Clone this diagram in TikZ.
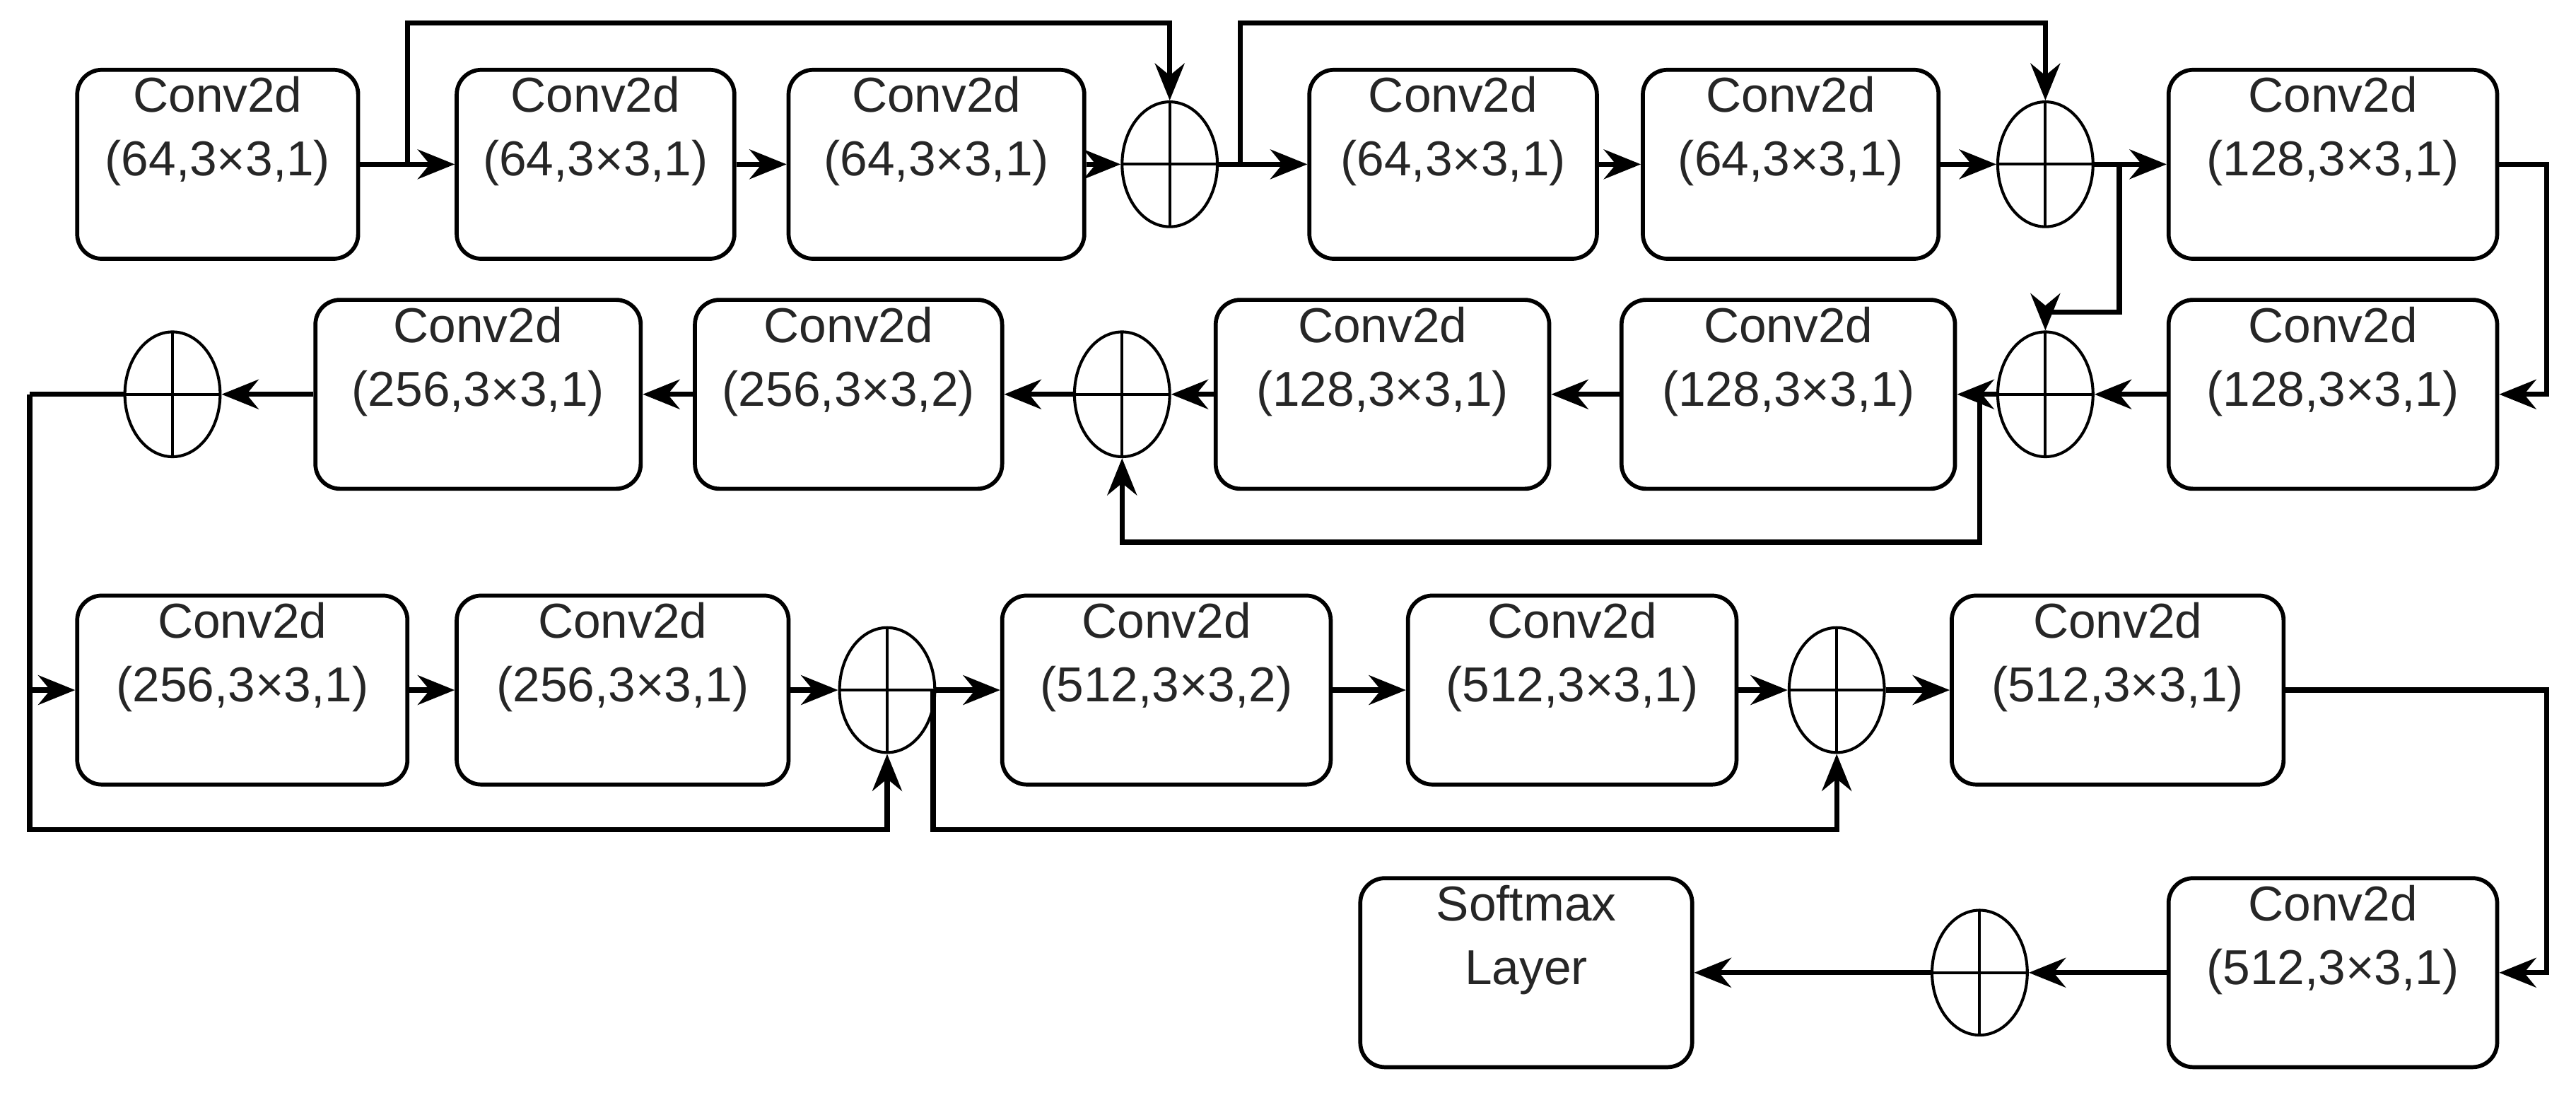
\documentclass[tikz,border=0pt]{standalone}
\usepackage{fontspec}
\setmainfont{Liberation Sans}
\usetikzlibrary{shapes.geometric,arrows.meta}
\begin{document}
\begin{tikzpicture}[x=0.02cm,y=-0.02cm,
  box/.style={draw,line width=1.4pt,rounded corners=0.3cm,inner sep=0pt},
  sum/.style={draw,ellipse,line width=1pt,minimum width=1.16cm,minimum height=1.52cm,inner sep=0pt,
    path picture={\draw[line width=1pt] (path picture bounding box.north)--(path picture bounding box.south)
      (path picture bounding box.west)--(path picture bounding box.east);}},
  txt/.style={align=center,font=\fontsize{17}{22}\selectfont,text=black!85},
  ar/.style={line width=1.8pt,-{Stealth[length=0.45cm,width=0.36cm]}},
  ln/.style={line width=1.8pt}]
\useasboundingbox (0,0) rectangle (1568,665);
\newcommand{\cbox}[6]{%
  \node[box,minimum width=#4*0.02cm,minimum height=#5*0.02cm] (#1) at (#2,#3) {};
  \node[txt] at (#2,#3-20) {#6};}
% row 1
\cbox{b1}{132.5}{100}{171}{115}{Conv2d\\(64,3×3,1)}
\cbox{b2}{362.5}{100}{169}{115}{Conv2d\\(64,3×3,1)}
\cbox{b3}{570}{100}{180}{115}{Conv2d\\(64,3×3,1)}
\node[sum] (s1) at (712,100) {};
\cbox{b4}{884.5}{100}{175}{115}{Conv2d\\(64,3×3,1)}
\cbox{b5}{1090}{100}{180}{115}{Conv2d\\(64,3×3,1)}
\node[sum] (s2) at (1245,100) {};
\cbox{b6}{1420}{100}{200}{115}{Conv2d\\(128,3×3,1)}
% row 2
\cbox{b7}{1420}{240}{200}{115}{Conv2d\\(128,3×3,1)}
\node[sum] (s3) at (1245,240) {};
\cbox{b8}{1088.5}{240}{203}{115}{Conv2d\\(128,3×3,1)}
\cbox{b9}{841.5}{240}{203}{115}{Conv2d\\(128,3×3,1)}
\node[sum] (s4) at (683,240) {};
\cbox{b10}{516.5}{240}{187}{115}{Conv2d\\(256,3×3,2)}
\cbox{b11}{291}{240}{198}{115}{Conv2d\\(256,3×3,1)}
\node[sum] (s5) at (105,240) {};
% row 3
\cbox{b12}{147.5}{420}{201}{115}{Conv2d\\(256,3×3,1)}
\cbox{b13}{379}{420}{202}{115}{Conv2d\\(256,3×3,1)}
\node[sum] (s6) at (540,420) {};
\cbox{b14}{710}{420}{200}{115}{Conv2d\\(512,3×3,2)}
\cbox{b15}{957}{420}{200}{115}{Conv2d\\(512,3×3,1)}
\node[sum] (s7) at (1118,420) {};
\cbox{b16}{1289}{420}{202}{115}{Conv2d\\(512,3×3,1)}
% row 4
\cbox{b17}{1420}{592}{200}{115}{Conv2d\\(512,3×3,1)}
\node[sum] (s8) at (1205,592) {};
\cbox{sm}{929}{592}{202}{115}{Softmax\\Layer}
% coordinates
\coordinate (k1) at (248,100);
\coordinate (k2) at (755,100);
\coordinate (k3) at (1290,100);
\coordinate (k4) at (1205,240);
\coordinate (k5) at (18,240);
\coordinate (k6) at (568,420);
\coordinate (e1) at (1550,100);
\coordinate (e2) at (1550,420);
% main flow
\draw[ar] (b1) -- (b2);
\draw[ar] (b2) -- (b3);
\draw[ar] (b3) -- (s1);
\draw[ar] (s1) -- (b4);
\draw[ar] (b4) -- (b5);
\draw[ar] (b5) -- (s2);
\draw[ar] (s2) -- (b6);
\draw[ar] (b6.east) -- (e1) |- (b7.east);
\draw[ar] (b7) -- (s3);
\draw[ar] (s3) -- (b8);
\draw[ar] (b8) -- (b9);
\draw[ar] (b9) -- (s4);
\draw[ar] (s4) -- (b10);
\draw[ar] (b10) -- (b11);
\draw[ar] (b11) -- (s5);
\draw[ln] (s5) -- (k5);
\draw[ar] (k5) |- (b12.west);
\draw[ar] (b12) -- (b13);
\draw[ar] (b13) -- (s6);
\draw[ar] (s6) -- (b14);
\draw[ar] (b14) -- (b15);
\draw[ar] (b15) -- (s7);
\draw[ar] (s7) -- (b16);
\draw[ar] (b16.east) -- (e2) |- (b17.east);
\draw[ar] (b17) -- (s8);
\draw[ar] (s8) -- (sm);
% skips
\draw[ar] (k1) -- (248,14) -| (s1.north);
\draw[ar] (k2) -- (755,14) -| (s2.north);
\draw[ar] (k3) -- (1290,190) -| (s3.north);
\draw[ar] (k4) -- (1205,330) -| (s4.south);
\draw[ar] (k5) -- (18,505) -| (s6.south);
\draw[ar] (k6) -- (568,505) -| (s7.south);
\end{tikzpicture}
\end{document}
